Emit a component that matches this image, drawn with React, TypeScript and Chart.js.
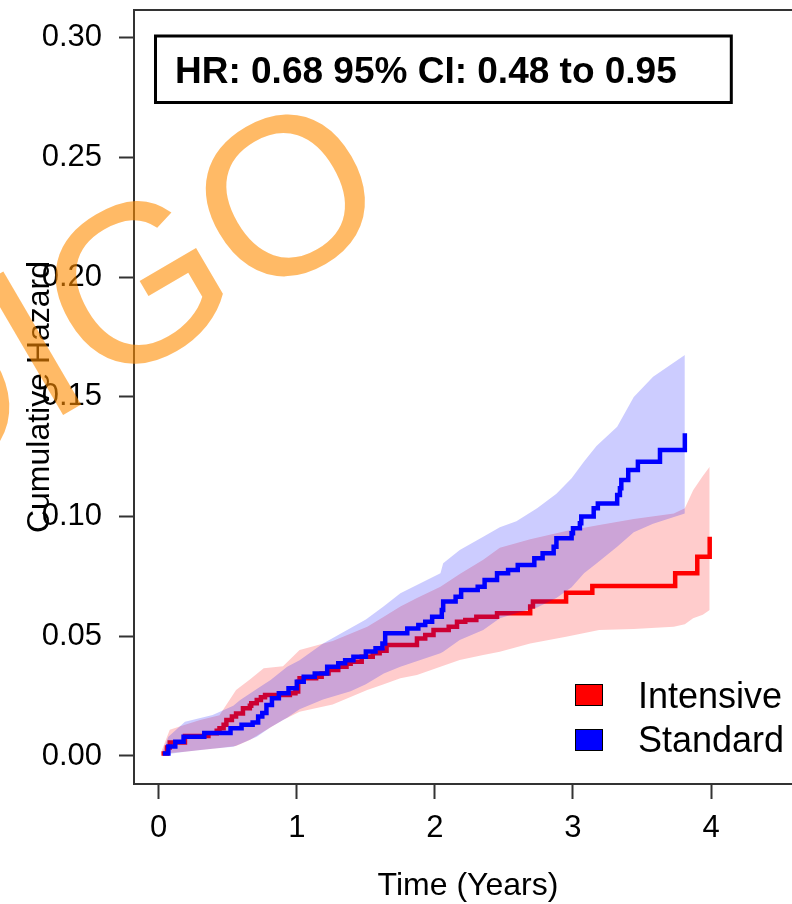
import React, { useEffect, useRef } from 'react';
import { Chart, registerables } from 'chart.js';

Chart.register(...registerables);

const FONT = '"Liberation Sans", Arial, Helvetica, sans-serif';

// ---- tick labels ----
const xTickValues = [0, 1, 2, 3, 4];
const yTickValues = [0, 0.05, 0.1, 0.15, 0.2, 0.25, 0.3];

// ---- step curves (cumulative hazard) ----
const intensiveTimes = [
  0.02, 0.06, 0.08, 0.19, 0.36, 0.42, 0.44, 0.47, 0.49, 0.53, 0.56, 0.61, 0.66, 0.67, 0.71, 0.74, 0.77,
  0.95, 0.99, 1.01, 1.02, 1.14, 1.18, 1.23, 1.3, 1.36, 1.39, 1.47, 1.55, 1.6, 1.65, 1.87, 1.93, 1.99,
  2.1, 2.16, 2.22, 2.3, 2.45, 2.69, 2.71, 2.95, 3.14, 3.74, 3.9, 3.99,
];
const intensiveHazard = [
  0.001, 0.0035, 0.0056, 0.0084, 0.0095, 0.0105, 0.0116, 0.013, 0.015, 0.0165, 0.0178, 0.0199, 0.021, 0.022,
  0.0234, 0.0245, 0.0255, 0.0262, 0.0269, 0.031, 0.0325, 0.0331, 0.0345, 0.0359, 0.0373, 0.0385, 0.0394,
  0.0415, 0.0429, 0.044, 0.0464, 0.0491, 0.0505, 0.0526, 0.054, 0.0561, 0.0568, 0.0582, 0.0596, 0.0624,
  0.0645, 0.0682, 0.071, 0.0763, 0.0832, 0.0916,
];
const standardTimes = [
  0.03, 0.07, 0.12, 0.18, 0.33, 0.52, 0.6, 0.68, 0.72, 0.75, 0.78, 0.82, 0.87, 0.94, 1.0, 1.05, 1.13, 1.22,
  1.3, 1.35, 1.41, 1.5, 1.57, 1.62, 1.64, 1.8, 1.88, 1.93, 1.98, 2.05, 2.06, 2.15, 2.19, 2.31, 2.36, 2.45,
  2.53, 2.6, 2.72, 2.78, 2.86, 2.88, 2.99, 3.0, 3.05, 3.06, 3.15, 3.18, 3.32, 3.34, 3.35, 3.4, 3.47, 3.63,
  3.81,
];
const standardHazard = [
  0.001, 0.004, 0.006, 0.008, 0.0096, 0.0116, 0.013, 0.014, 0.0165, 0.018, 0.0213, 0.0241, 0.0262, 0.0283,
  0.031, 0.0331, 0.0345, 0.0373, 0.0387, 0.04, 0.0415, 0.0436, 0.045, 0.047, 0.0513, 0.0533, 0.0547,
  0.0561, 0.0582, 0.061, 0.0645, 0.0665, 0.0693, 0.0707, 0.0735, 0.0763, 0.0777, 0.0798, 0.0826, 0.0847,
  0.0874, 0.0909, 0.093, 0.0951, 0.0972, 0.1, 0.1035, 0.1055, 0.109, 0.1118, 0.1153, 0.1195, 0.1229,
  0.1278, 0.1348,
];

// ---- confidence bands ----
const intensiveBandTimes = [
  0.02, 0.08, 0.19, 0.3, 0.44, 0.56, 0.66, 0.76, 0.9, 1.02, 1.26, 1.51, 1.63, 1.75, 1.87, 2.04, 2.18, 2.35,
  2.47, 2.69, 2.95, 3.19, 3.44, 3.73, 3.81, 3.87, 3.94, 3.99,
];
const intensiveUpper = [
  0.002, 0.011, 0.013, 0.015, 0.017, 0.0276, 0.032, 0.0366, 0.0375, 0.0443, 0.048, 0.054, 0.0582, 0.0624,
  0.066, 0.0707, 0.076, 0.082, 0.087, 0.0905, 0.094, 0.0965, 0.099, 0.1013, 0.1035, 0.111, 0.117, 0.1208,
];
const intensiveLower = [
  0.0008, 0.0012, 0.0018, 0.0025, 0.0033, 0.0042, 0.0067, 0.0102, 0.015, 0.0185, 0.0215, 0.0276, 0.03,
  0.0325, 0.0338, 0.0373, 0.0401, 0.0422, 0.0435, 0.047, 0.0498, 0.0526, 0.053, 0.054, 0.055, 0.0575,
  0.059, 0.061,
];
const standardBandTimes = [
  0.03, 0.07, 0.19, 0.39, 0.54, 0.59, 0.71, 0.81, 0.93, 1.02, 1.19, 1.39, 1.5, 1.63, 1.75, 2.04, 2.06, 2.18,
  2.35, 2.47, 2.59, 2.74, 2.88, 2.99, 3.08, 3.17, 3.32, 3.44, 3.58, 3.81,
];
const standardUpper = [
  0.002, 0.008, 0.0143, 0.0171, 0.021, 0.0234, 0.028, 0.0317, 0.0373, 0.04, 0.047, 0.0535, 0.057, 0.0625,
  0.068, 0.0763, 0.0805, 0.086, 0.0916, 0.0955, 0.098, 0.1035, 0.1095, 0.116, 0.123, 0.1295, 0.1375, 0.15,
  0.1584, 0.1675,
];
const standardLower = [
  0.0004, 0.0008, 0.0018, 0.003, 0.0039, 0.005, 0.008, 0.012, 0.016, 0.0195, 0.0236, 0.027, 0.03, 0.0345,
  0.0373, 0.0429, 0.0435, 0.0485, 0.0526, 0.0575, 0.0596, 0.062, 0.066, 0.0705, 0.0763, 0.0804, 0.0874,
  0.0935, 0.097, 0.1013,
];

// ---- texts ----
const seriesNames = ['Intensive', 'Standard'];
const seriesColors = ['#FF0000', '#0000FF'];
const bandColors = ['rgba(255,0,0,0.2)', 'rgba(0,0,255,0.2)'];
const hrText = 'HR: 0.68 95% CI: 0.48 to 0.95';
const xTitle = 'Time (Years)';
const yTitle = 'Cumulative Hazard';
const watermarkLeft = 'INDI';
const watermarkRight = 'GO';

const pts = (xs: number[], ys: number[]) => xs.map((x, i) => ({ x, y: ys[i] }));

const overlayPlugin = {
  id: 'overlay',
  afterDraw(chart: any) {
    const ctx: CanvasRenderingContext2D = chart.ctx;
    const { left, top, right, bottom } = chart.chartArea;
    ctx.save();

    // top frame line
    ctx.strokeStyle = '#333';
    ctx.lineWidth = 2;
    ctx.beginPath();
    ctx.moveTo(left - 1, top);
    ctx.lineTo(right, top);
    ctx.stroke();

    // HR box
    ctx.strokeStyle = '#000';
    ctx.lineWidth = 3;
    ctx.strokeRect(155.5, 36, 575.8, 66.5);
    ctx.fillStyle = '#000';
    ctx.font = `bold 37px ${FONT}`;
    ctx.textAlign = 'left';
    ctx.textBaseline = 'alphabetic';
    ctx.fillText(hrText, 175, 83);

    // legend
    const legY = [684, 729];
    const legBase = [708, 752];
    ctx.font = `36px ${FONT}`;
    seriesNames.forEach((name, i) => {
      ctx.fillStyle = seriesColors[i];
      ctx.fillRect(575, legY[i], 28, 22);
      ctx.strokeStyle = '#000';
      ctx.lineWidth = 1;
      ctx.strokeRect(575.5, legY[i] + 0.5, 27, 21);
      ctx.fillStyle = '#000';
      ctx.fillText(name, 638, legBase[i]);
    });

    // axis titles
    ctx.font = `32px ${FONT}`;
    ctx.textAlign = 'center';
    ctx.fillText(xTitle, 468, 895);
    ctx.save();
    ctx.translate(49, (top + bottom) / 2);
    ctx.rotate(-Math.PI / 2);
    ctx.fillText(yTitle, 0, 0);
    ctx.restore();

    // watermark
    ctx.save();
    ctx.translate(99, 394);
    ctx.rotate((-30.3 * Math.PI) / 180);
    ctx.font = `224px ${FONT}`;
    ctx.fillStyle = 'rgba(255,140,0,0.6)';
    ctx.textAlign = 'right';
    ctx.fillText(watermarkLeft, 0, 0);
    ctx.textAlign = 'left';
    ctx.fillText(watermarkRight, 0, 0);
    ctx.restore();

    ctx.restore();
  },
};

export default function App() {
  const ref = useRef<HTMLCanvasElement | null>(null);

  useEffect(() => {
    document.body.style.margin = '0';
    if (!ref.current) return;
    Chart.defaults.font.family = FONT;

    const chart = new Chart(ref.current, {
      type: 'line',
      data: {
        datasets: [
          {
            label: 'Intensive lower',
            data: pts(intensiveBandTimes, intensiveLower),
            borderWidth: 0,
            borderColor: 'transparent',
            pointRadius: 0,
            fill: false,
            order: 5,
          },
          {
            label: 'Intensive upper',
            data: pts(intensiveBandTimes, intensiveUpper),
            borderWidth: 0,
            borderColor: 'transparent',
            backgroundColor: bandColors[0],
            pointRadius: 0,
            fill: '-1',
            order: 4,
          },
          {
            label: seriesNames[0],
            data: pts(intensiveTimes, intensiveHazard),
            borderColor: seriesColors[0],
            borderWidth: 4.5,
            pointRadius: 0,
            stepped: 'before',
            fill: false,
            order: 3,
          },
          {
            label: 'Standard lower',
            data: pts(standardBandTimes, standardLower),
            borderWidth: 0,
            borderColor: 'transparent',
            pointRadius: 0,
            fill: false,
            order: 2,
          },
          {
            label: 'Standard upper',
            data: pts(standardBandTimes, standardUpper),
            borderWidth: 0,
            borderColor: 'transparent',
            backgroundColor: bandColors[1],
            pointRadius: 0,
            fill: '-1',
            order: 1,
          },
          {
            label: seriesNames[1],
            data: pts(standardTimes, standardHazard),
            borderColor: seriesColors[1],
            borderWidth: 4.5,
            pointRadius: 0,
            stepped: 'before',
            fill: false,
            order: 0,
          },
        ],
      },
      options: {
        animation: false,
        responsive: false,
        devicePixelRatio: 1,
        layout: { padding: { top: 10, left: 0, right: 0, bottom: 0 } },
        plugins: {
          legend: { display: false },
          tooltip: { enabled: false },
          title: { display: false },
        },
        elements: { line: { tension: 0 } },
        scales: {
          x: {
            type: 'linear',
            min: -0.179,
            max: 4.586,
            afterBuildTicks: (scale: any) => {
              scale.ticks = xTickValues.map((value) => ({ value }));
            },
            afterFit: (scale: any) => {
              scale.height = 120;
              scale.paddingLeft = 0;
              scale.paddingRight = 0;
            },
            ticks: {
              color: '#000',
              font: { size: 31, family: FONT },
              padding: 11,
              maxRotation: 0,
              autoSkip: false,
              callback: (v: any) => String(v),
            },
            grid: {
              display: true,
              drawOnChartArea: false,
              drawTicks: true,
              tickLength: 15,
              tickWidth: 2,
              tickColor: '#333',
            },
            border: { display: true, color: '#333', width: 2 },
          },
          y: {
            type: 'linear',
            min: -0.0117,
            max: 0.3116,
            afterBuildTicks: (scale: any) => {
              scale.ticks = yTickValues.map((value) => ({ value }));
            },
            afterFit: (scale: any) => {
              scale.width = 134;
              scale.paddingTop = 0;
              scale.paddingBottom = 0;
            },
            ticks: {
              color: '#000',
              font: { size: 31, family: FONT },
              padding: 17,
              autoSkip: false,
              callback: (v: any) => Number(v).toFixed(2),
            },
            grid: {
              display: true,
              drawOnChartArea: false,
              drawTicks: true,
              tickLength: 15,
              tickWidth: 2,
              tickColor: '#333',
            },
            border: { display: true, color: '#333', width: 2 },
          },
        },
      },
      plugins: [overlayPlugin],
    });

    return () => chart.destroy();
  }, []);

  return (
    <div style={{ width: 792, height: 904 }}>
      <canvas ref={ref} width={792} height={904} style={{ display: 'block' }} />
    </div>
  );
}
